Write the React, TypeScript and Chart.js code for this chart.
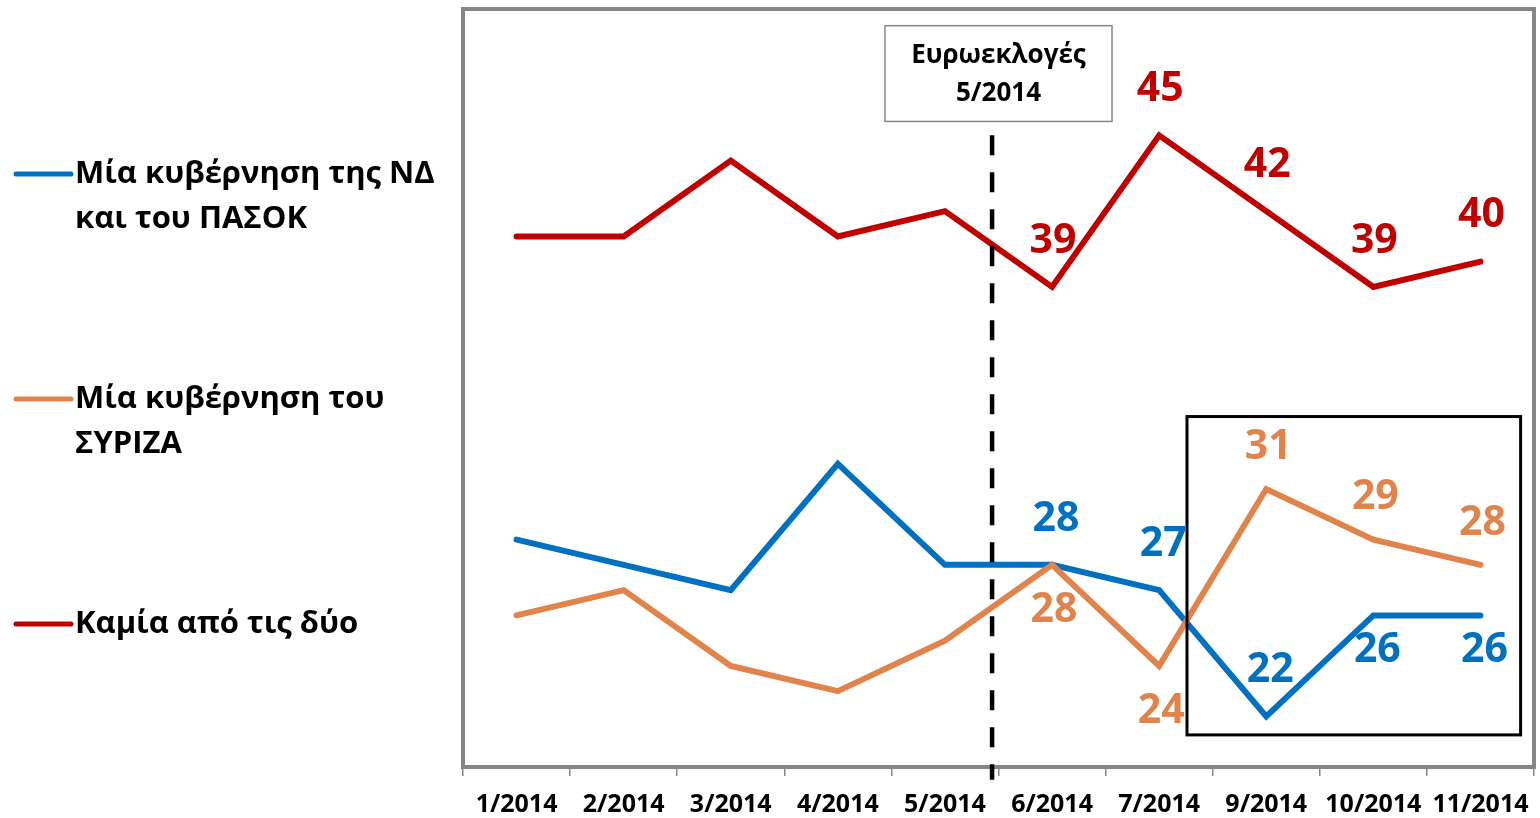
import React, { useEffect, useRef } from "react";
import { Chart, registerables } from "chart.js";

Chart.register(...registerables);

const months = ["1/2014", "2/2014", "3/2014", "4/2014", "5/2014", "6/2014", "7/2014", "9/2014", "10/2014", "11/2014"];
const ndPasok = [29, 28, 27, 32, 28, 28, 27, 22, 26, 26];
const syriza = [26, 27, 24, 23, 25, 28, 24, 31, 29, 28];
const neither = [41, 41, 44, 41, 42, 39, 45, 42, 39, 40];

// label placement per point: "u" above, "d" below, "" none
const ndPasokLabelPos = ["", "", "", "", "", "u", "u", "u", "d", "d"];
const syrizaLabelPos = ["", "", "", "", "", "d", "d", "u", "u", "u"];
const neitherLabelPos = ["", "", "", "", "", "u", "u", "u", "u", "u"];

const legendLines = [
  ["Μία κυβέρνηση της ΝΔ", "και του ΠΑΣΟΚ"],
  ["Μία κυβέρνηση του", "ΣΥΡΙΖΑ"],
  ["Καμία από τις δύο"],
];

const BLUE = "#0070C0";
const ORANGE = "#E0844C";
const RED = "#C00000";
const GREY = "#868686";
const FONT = "'Open Sans', 'DejaVu Sans', sans-serif";

const overlayPlugin = {
  id: "overlay",
  beforeDatasetsDraw(chart: any) {
    const { ctx, chartArea: a } = chart;
    ctx.save();
    ctx.strokeStyle = GREY;
    ctx.lineWidth = 4;
    ctx.strokeRect(a.left, a.top, a.right - a.left, a.bottom - a.top);
    ctx.restore();
  },
  afterDatasetsDraw(chart: any) {
    const { ctx } = chart;
    const xs = chart.scales.x;
    const ys = chart.scales.y;
    ctx.save();

    // dashed election line
    const dx = xs.getPixelForValue(4.44);
    ctx.strokeStyle = "#000";
    ctx.lineWidth = 4.5;
    ctx.setLineDash([20, 17]);
    ctx.beginPath();
    ctx.moveTo(dx, ys.getPixelForValue(45));
    ctx.lineTo(dx, ys.getPixelForValue(19.5));
    ctx.stroke();
    ctx.setLineDash([]);

    // election box
    const bx1 = xs.getPixelForValue(3.44);
    const bx2 = xs.getPixelForValue(5.56);
    const by1 = ys.getPixelForValue(49.34);
    const by2 = ys.getPixelForValue(45.55);
    ctx.fillStyle = "#fff";
    ctx.fillRect(bx1, by1, bx2 - bx1, by2 - by1);
    ctx.strokeStyle = GREY;
    ctx.lineWidth = 1.5;
    ctx.strokeRect(bx1, by1, bx2 - bx1, by2 - by1);
    ctx.fillStyle = "#000";
    ctx.font = `bold 26px ${FONT}`;
    ctx.textAlign = "center";
    ctx.textBaseline = "middle";
    const bcx = (bx1 + bx2) / 2;
    ctx.fillText("Ευρωεκλογές", bcx, by1 + 30);
    ctx.fillText("5/2014", bcx, by1 + 68);

    // highlight box
    const hx1 = xs.getPixelForValue(6.26);
    const hx2 = xs.getPixelForValue(9.375);
    const hy1 = ys.getPixelForValue(33.87);
    const hy2 = ys.getPixelForValue(21.27);
    ctx.strokeStyle = "#000";
    ctx.lineWidth = 3;
    ctx.strokeRect(hx1, hy1, hx2 - hx1, hy2 - hy1);

    // data labels
    const series = [
      { data: ndPasok, pos: ndPasokLabelPos, color: BLUE, up: 46, down: 35, dx: 4 },
      { data: syriza, pos: syrizaLabelPos, color: ORANGE, up: 42, down: 45, dx: 2 },
      { data: neither, pos: neitherLabelPos, color: RED, up: 46, down: 40, dx: 1 },
    ];
    ctx.font = `bold 41px ${FONT}`;
    series.forEach((s) => {
      ctx.fillStyle = s.color;
      s.data.forEach((v, i) => {
        const p = s.pos[i];
        if (!p) return;
        const px = xs.getPixelForValue(i);
        const py = ys.getPixelForValue(v);
        const ly = p === "u" ? py - s.up : py + s.down;
        ctx.fillText(String(v), px + s.dx, ly);
      });
    });

    // legend
    const colors = [BLUE, ORANGE, RED];
    const legendY = [174, 399, 624];
    ctx.textAlign = "left";
    ctx.font = `bold 31px ${FONT}`;
    legendLines.forEach((lines, k) => {
      const y0 = legendY[k];
      ctx.strokeStyle = colors[k];
      ctx.lineWidth = 5;
      ctx.lineCap = "round";
      ctx.beginPath();
      ctx.moveTo(16, y0);
      ctx.lineTo(71, y0);
      ctx.stroke();
      ctx.fillStyle = "#000";
      lines.forEach((t, j) => {
        ctx.fillText(t, 75, y0 + j * 45);
      });
    });
    ctx.restore();
  },
};

export default function App() {
  const ref = useRef<HTMLCanvasElement | null>(null);
  useEffect(() => {
    if (!ref.current) return;
    const mk = (data: number[], color: string) => ({
      data,
      borderColor: color,
      backgroundColor: color,
      borderWidth: 6,
      pointRadius: 0,
      tension: 0,
      fill: false,
      borderCapStyle: "round" as const,
      borderJoinStyle: "miter" as const,
    });
    const chart = new Chart(ref.current, {
      type: "line",
      data: {
        labels: months,
        datasets: [mk(neither, RED), mk(syriza, ORANGE), mk(ndPasok, BLUE)],
      },
      options: {
        responsive: false,
        animation: false,
        layout: { padding: { left: 463, right: 6, top: 9, bottom: -16 } },
        plugins: { legend: { display: false }, tooltip: { enabled: false } },
        scales: {
          x: {
            offset: true,
            afterFit: (scale: any) => {
              scale.paddingLeft = 0;
              scale.paddingRight = 0;
            },
            grid: {
              display: true,
              offset: true,
              drawOnChartArea: false,
              drawTicks: true,
              tickLength: 9,
              color: GREY,
              lineWidth: 1.5,
            },
            border: { display: false },
            ticks: {
              color: "#000",
              font: { family: FONT, size: 25, weight: "bold" },
              padding: 14,
              maxRotation: 0,
              autoSkip: false,
            },
          },
          y: { display: false, min: 20, max: 50 },
        },
      },
      plugins: [overlayPlugin],
    });
    return () => chart.destroy();
  }, []);
  return (
    <div style={{ position: "absolute", left: 0, top: 0, width: 1540, height: 818, background: "#fff" }}>
      <canvas ref={ref} width={1540} height={818} style={{ display: "block" }} />
    </div>
  );
}
